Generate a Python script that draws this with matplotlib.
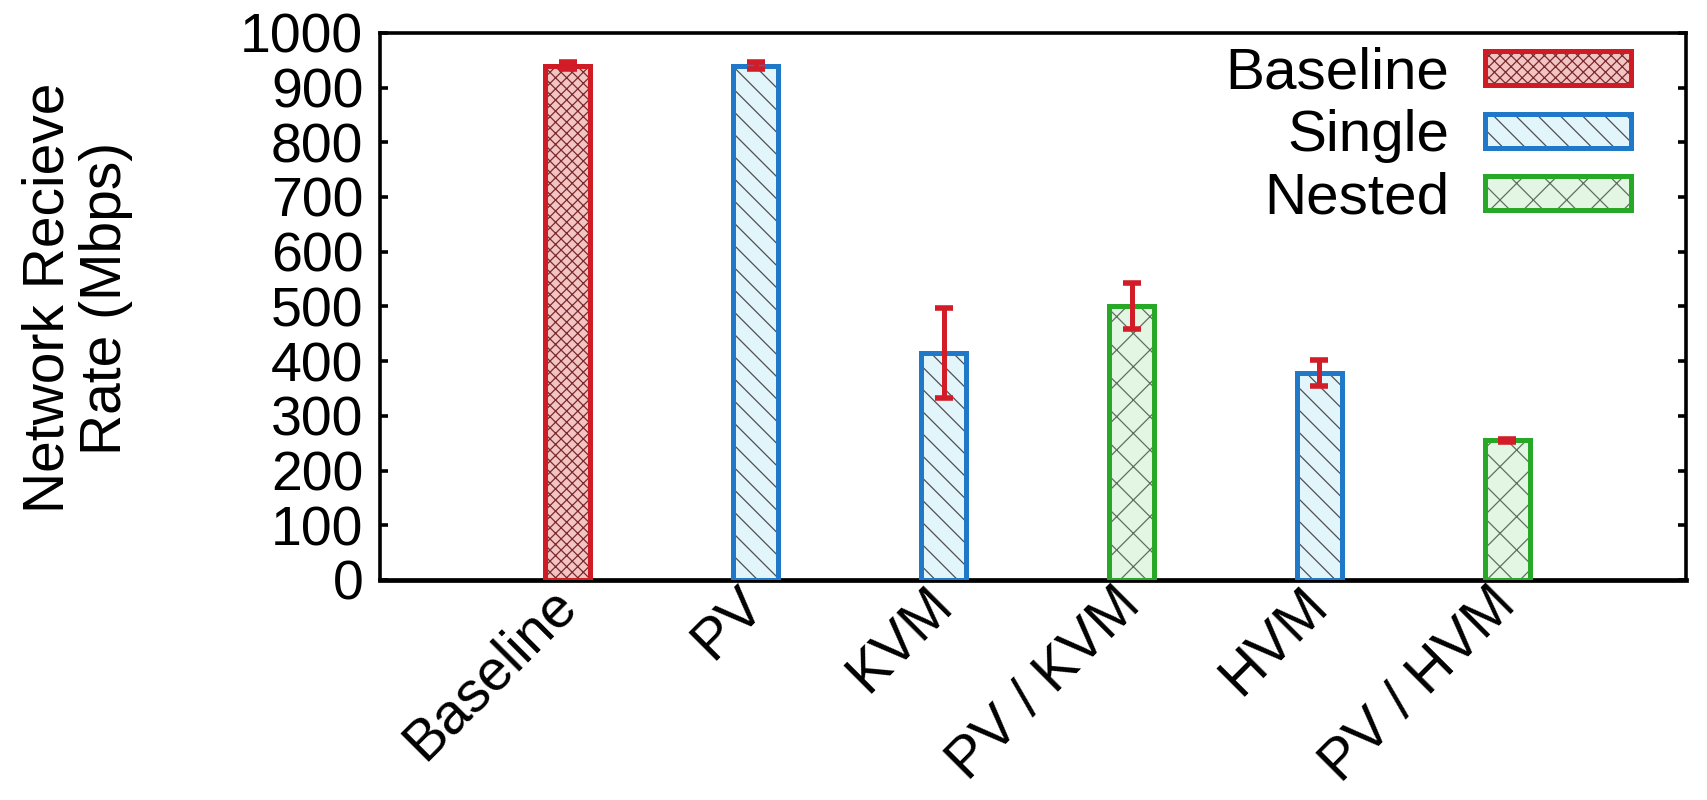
import matplotlib
matplotlib.use("Agg")
import matplotlib.pyplot as plt
from matplotlib.patches import Patch
from matplotlib.legend_handler import HandlerTuple

# Measured receive throughput per configuration
categories = ["Baseline", "PV", "KVM", "PV / KVM", "HVM", "PV / HVM"]
groups = ["Baseline", "Single", "Single", "Nested", "Single", "Nested"]
rates = [940, 940, 415, 500, 378, 255]
errors = [7, 7, 82, 42, 24, 3]

series_names = ["Baseline", "Single", "Nested"]

styles = {
    "Baseline": dict(edge="#cf1c24", fill="#f3c4c4", hatch="xxxxxx", hatchcolor="#7a2a2a"),
    "Single": dict(edge="#2079c8", fill="#e2f5fb", hatch="\\\\\\", hatchcolor="#505050"),
    "Nested": dict(edge="#27a927", fill="#e3f6e3", hatch="xx", hatchcolor="#607060"),
}

plt.rcParams["font.family"] = ["Liberation Sans", "DejaVu Sans"]
plt.rcParams["font.size"] = 20
plt.rcParams["hatch.linewidth"] = 0.45

fig = plt.figure(figsize=(8.54, 4.0), dpi=200)
ax = fig.add_axes([0.2225, 0.275, 0.7645, 0.684])

xs = list(range(len(categories)))
bar_w = 0.24
edge_lw = 1.8

for x, g, v in zip(xs, groups, rates):
    st = styles[g]
    # hatched interior
    ax.bar(x, v, width=bar_w, color=st["fill"], edgecolor=st["hatchcolor"],
           hatch=st["hatch"], linewidth=0, zorder=2)
    # thick coloured outline
    ax.bar(x, v, width=bar_w, fill=False, edgecolor=st["edge"],
           linewidth=edge_lw, zorder=3)

ax.errorbar(xs, rates, yerr=errors, fmt="none", ecolor="#d21c28",
            elinewidth=1.8, capsize=3.4, capthick=2.0, zorder=4)

ax.set_xlim(-1.0, 5.95)
ax.set_ylim(0, 1000)
ax.set_yticks(range(0, 1001, 100))
ax.set_xticks(xs)
ax.set_xticklabels(categories, rotation=45, ha="right", va="center",
                   rotation_mode="anchor", fontsize=20.5)

ax.tick_params(axis="y", direction="in", length=3, width=1.3, pad=6,
               right=True, labelsize=20)
ax.tick_params(axis="x", length=0, pad=6)

for side in ["left", "right", "top"]:
    ax.spines[side].set_linewidth(1.3)
ax.spines["bottom"].set_linewidth(1.7)

ax.set_ylabel("Network Recieve\nRate (Mbps)", fontsize=20.5, linespacing=1.1)
ax.yaxis.set_label_coords(-0.189, 0.515)

handles = []
for name in series_names:
    st = styles[name]
    inner = Patch(facecolor=st["fill"], edgecolor=st["hatchcolor"],
                  hatch=st["hatch"], linewidth=0)
    outer = Patch(fill=False, edgecolor=st["edge"], linewidth=edge_lw)
    handles.append((inner, outer))

ax.legend(handles, series_names, handler_map={tuple: HandlerTuple(ndivide=1)},
          loc="upper right", bbox_to_anchor=(0.958, 0.975), frameon=False,
          markerfirst=False, handlelength=2.5, handleheight=0.52,
          handletextpad=0.62, labelspacing=0.15, borderpad=0,
          borderaxespad=0, fontsize=21)

fig.savefig("out.png", dpi=200)
